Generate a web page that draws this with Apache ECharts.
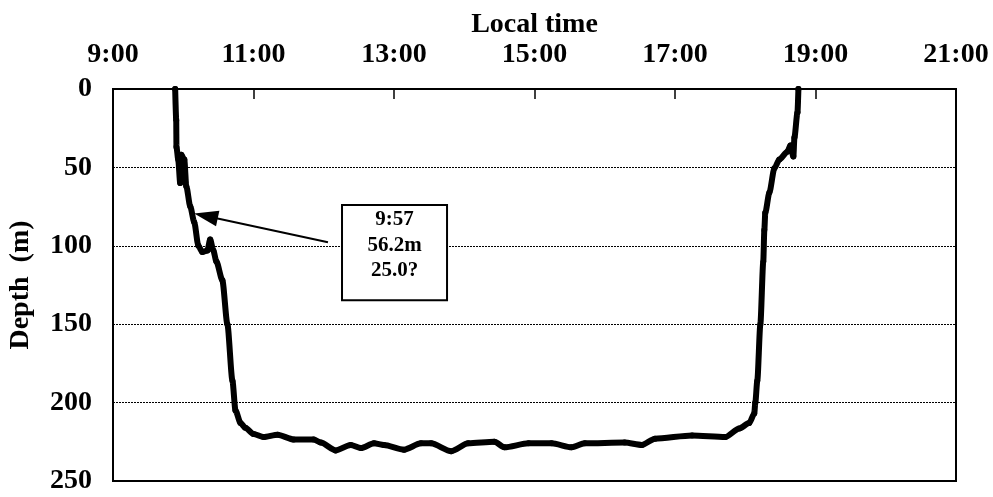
<!DOCTYPE html>
<html>
<head>
<meta charset="utf-8">
<script src="https://cdn.jsdelivr.net/npm/echarts@6/dist/echarts.min.js"></script>
<style>html,body{margin:0;padding:0;background:#fff}#c{width:993px;height:497px}</style>
</head>
<body>
<div id="c"></div>
<script>
// Local time of each sample (minutes since midnight)
const timeMin = [593.1, 594, 594.2, 595.7, 597.4, 598.3, 600.9, 602.6, 606, 609.4, 612.9, 616.3, 620.6, 623, 625.7, 628.3,
  633.4, 637.7, 642, 644.6, 648.9, 653, 660, 668.6, 680.6, 694.3, 711.4, 717.4, 730.3, 743, 751.7, 762.9, 771.4,
  788.6, 803, 811.7, 828.9, 843.4, 865.7, 874.3, 894.9, 914.6, 931.7, 942.9, 977, 991.7, 1002.9, 1034.6, 1062.9,
  1074.9, 1083.4, 1087.7, 1088.6, 1090.3, 1092.9, 1095.4, 1096.3, 1097.1, 1100.6, 1104.9, 1109.1, 1116, 1118.6,
  1121.1, 1122, 1124.6, 1125.4];
// Depth (m)
const depth = [0, 20, 37, 45, 60, 42, 45, 62, 75, 85, 100, 104, 103, 96, 103, 110,
  122, 150, 186, 205, 213, 216, 220, 222, 220.5, 223.5, 223.5, 225.5, 230.5, 227, 229, 226, 227,
  230, 226, 226, 231, 226, 225, 228.5, 226, 226, 228.5, 226, 225.5, 227, 223, 221, 222,
  216.5, 213, 207, 200, 186, 150, 110, 90, 79, 66, 50.5, 45,
  40, 36, 43, 31, 15, 0];
const xTicks = ['9:00', '11:00', '13:00', '15:00', '17:00', '19:00', '21:00'];
const yTicks = [0, 50, 100, 150, 200, 250];
const note = ['9:57', '56.2m', '25.0?'];
const startMin = 540; // 9:00

const FONT = '"Liberation Serif", "DejaVu Serif", serif';
const chart = echarts.init(document.getElementById('c'));
const data = timeMin.map((t, i) => [t - startMin, depth[i]]);

chart.setOption({
  animation: false,
  backgroundColor: '#fff',
  grid: { left: 113, right: 37, top: 89, bottom: 16, outerBoundsMode: 'none', containLabel: false,
    show: true, borderColor: '#000', borderWidth: 2, backgroundColor: 'transparent' },
  xAxis: {
    type: 'value', position: 'top', min: 0, max: 720, interval: 120,
    name: 'Local time', nameLocation: 'middle', nameGap: 50, nameMoveOverlap: false,
    nameTextStyle: { fontFamily: FONT, fontWeight: 'bold', fontSize: 28, color: '#000' },
    axisLine: { show: true, lineStyle: { color: '#000', width: 2 } },
    axisTick: { show: true, inside: true, length: 10, lineStyle: { color: '#000', width: 1.5 } },
    axisLabel: { margin: 20, fontFamily: FONT, fontWeight: 'bold', fontSize: 28, color: '#000',
      formatter: v => xTicks[Math.round(v / 120)] },
    splitLine: { show: false }
  },
  yAxis: {
    type: 'value', inverse: true, min: 0, max: 250, interval: 50,
    name: 'Depth  (m)', nameLocation: 'middle', nameGap: 78, nameRotate: 90, nameMoveOverlap: false,
    nameTextStyle: { fontFamily: FONT, fontWeight: 'bold', fontSize: 28, color: '#000' },
    axisLine: { show: true, lineStyle: { color: '#000', width: 2 } },
    axisTick: { show: false },
    axisLabel: { margin: 21, fontFamily: FONT, fontWeight: 'bold', fontSize: 28, color: '#000',
      formatter: v => String(yTicks[Math.round(v / 50)]) },
    splitLine: { show: true, lineStyle: { color: '#000', width: 1, type: [2, 1] } }
  },
  series: [{
    type: 'line', data: data, showSymbol: true, symbol: 'circle', symbolSize: 6,
    smooth: 0.25, smoothMonotone: 'x',
    itemStyle: { color: '#000' },
    lineStyle: { color: '#000', width: 6, join: 'round', cap: 'round' },
    markLine: {
      silent: true, symbol: ['none', 'triangle'], symbolSize: [16, 24],
      lineStyle: { color: '#000', width: 2, type: 'solid' },
      label: { show: false },
      data: [[{ coord: [183.6, 97.7] }, { coord: [79.4, 81] }]]
    }
  }]
});

// annotation box positioned in data space
const tl = chart.convertToPixel({ gridIndex: 0 }, [195.6, 74]);
const br = chart.convertToPixel({ gridIndex: 0 }, [285.3, 134.7]);
const cx = (tl[0] + br[0]) / 2;
chart.setOption({
  graphic: [
    { type: 'rect', shape: { x: tl[0], y: tl[1], width: br[0] - tl[0], height: br[1] - tl[1] },
      style: { fill: '#fff', stroke: '#000', lineWidth: 2 }, z: 100 },
    ...note.map((s, i) => ({ type: 'text', z: 101, x: cx, y: tl[1] + 15 + i * 25.5,
      style: { text: s, fontFamily: FONT, fontWeight: 'bold', fontSize: 21, fill: '#000', align: 'center', verticalAlign: 'middle' } }))
  ]
});
</script>
</body>
</html>
